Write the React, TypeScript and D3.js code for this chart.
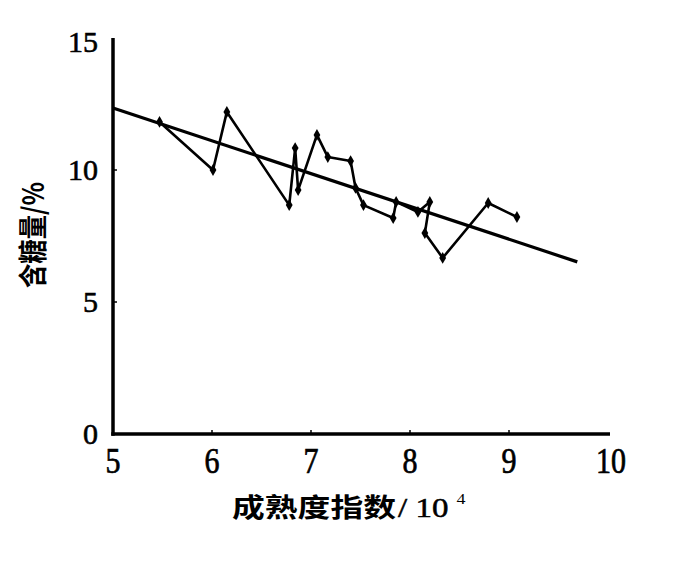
import React from "react";
import * as d3 from "d3";

const W = 692;
const H = 565;

const xTicks = [5, 6, 7, 8, 9, 10];
const yTicks = [0, 5, 10, 15];

// Observed sugar content vs maturity index
const maturity = [5.47, 6.01, 6.15, 6.78, 6.84, 6.87, 7.06, 7.17, 7.4, 7.45, 7.53, 7.83, 7.86, 8.08, 8.2, 8.15, 8.33, 8.79, 9.08];
const sugar = [11.82, 10.0, 12.2, 8.67, 10.83, 9.24, 11.33, 10.49, 10.34, 9.32, 8.67, 8.18, 8.79, 8.41, 8.79, 7.61, 6.67, 8.75, 8.22];

// Fitted regression line
const fitX = [5, 9.69];
const fitY = [12.35, 6.52];

const xTitleCjk = "成熟度指数";
const xTitleUnit = "/ 10";
const xTitleSup = "4";
const yTitle = "含糖量/%";

export default function App() {
  const x = d3.scaleLinear().domain([5, 10]).range([113, 608]);
  const y = d3.scaleLinear().domain([0, 15]).range([434, 38]);

  const line = d3
    .line<[number, number]>()
    .x((d) => x(d[0]))
    .y((d) => y(d[1]));

  const dataPts: [number, number][] = maturity.map((m, i) => [m, sugar[i]]);
  const fitPts: [number, number][] = fitX.map((m, i) => [m, fitY[i]]);
  const diamond = d3.symbol().type(d3.symbolDiamond).size(40)() as string;

  const numFont = "Liberation Serif, Times New Roman, Times, serif";
  const cjkFont = "Noto Sans CJK SC, sans-serif";

  return (
    <svg
      width={W}
      height={H}
      viewBox={`0 0 ${W} ${H}`}
      style={{ position: "absolute", left: 0, top: 0, background: "#fff" }}
    >
      <rect width={W} height={H} fill="#fff" />
      {/* fitted line */}
      <path d={line(fitPts) as string} fill="none" stroke="#000" strokeWidth={3.2} />
      {/* data line */}
      <path d={line(dataPts) as string} fill="none" stroke="#000" strokeWidth={2.6} strokeLinejoin="round" />
      {dataPts.map((d, i) => (
        <path key={i} d={diamond} transform={`translate(${x(d[0])},${y(d[1])})`} fill="#000" />
      ))}

      {/* axes */}
      <line x1={x(5)} y1={y(15)} x2={x(5)} y2={y(0) + 1.75} stroke="#000" strokeWidth={3.5} />
      <line x1={x(5) - 1.75} y1={y(0)} x2={x(10) + 2} y2={y(0)} stroke="#000" strokeWidth={3.5} />
      {xTicks.slice(1, -1).map((t) => (
        <line key={t} x1={x(t)} x2={x(t)} y1={y(0)} y2={y(0) - 4} stroke="#000" strokeWidth={1.5} />
      ))}
      {yTicks.slice(1, -1).map((t) => (
        <line key={t} x1={x(5)} x2={x(5) + 4} y1={y(t)} y2={y(t)} stroke="#000" strokeWidth={1.5} />
      ))}

      {/* tick labels */}
      {xTicks.map((t) => (
        <g key={t} transform={`translate(${x(t) + (t === 10 ? 3 : 0)},473) scale(1,1.2)`}>
          <text
            textAnchor="middle"
            fontFamily={numFont}
            fontSize={30}
            fill="#000"
            stroke="#000"
            strokeWidth={0.6}
          >
            {t}
          </text>
        </g>
      ))}
      {yTicks.map((t) => (
        <text
          key={t}
          x={98}
          y={t === 15 ? 52 : y(t) + 10}
          textAnchor="end"
          fontFamily={numFont}
          fontSize={30}
          fill="#000"
          stroke="#000"
          strokeWidth={0.6}
        >
          {t}
        </text>
      ))}

      {/* axis titles */}
      <g transform="translate(232,517) scale(1,0.85)">
        <text fontFamily={cjkFont} fontWeight={700} fontSize={31} fill="#000">
          <tspan textLength={164} lengthAdjust="spacingAndGlyphs">{xTitleCjk}</tspan>
          <tspan fontFamily={numFont} fontWeight={400} fontSize={33} stroke="#000" strokeWidth={0.6} dx={2}>
            {xTitleUnit}
          </tspan>
          <tspan dx={8} dy={-15} fontSize={18} fontFamily={numFont} fontWeight={400}>
            {xTitleSup}
          </tspan>
        </text>
      </g>
      <text
        transform={`translate(44,235) rotate(-90)`}
        textAnchor="middle"
        fontFamily={cjkFont}
        fontWeight={700}
        fontSize={29}
        textLength={106}
        lengthAdjust="spacingAndGlyphs"
        fill="#000"
      >
        {yTitle}
      </text>
    </svg>
  );
}
